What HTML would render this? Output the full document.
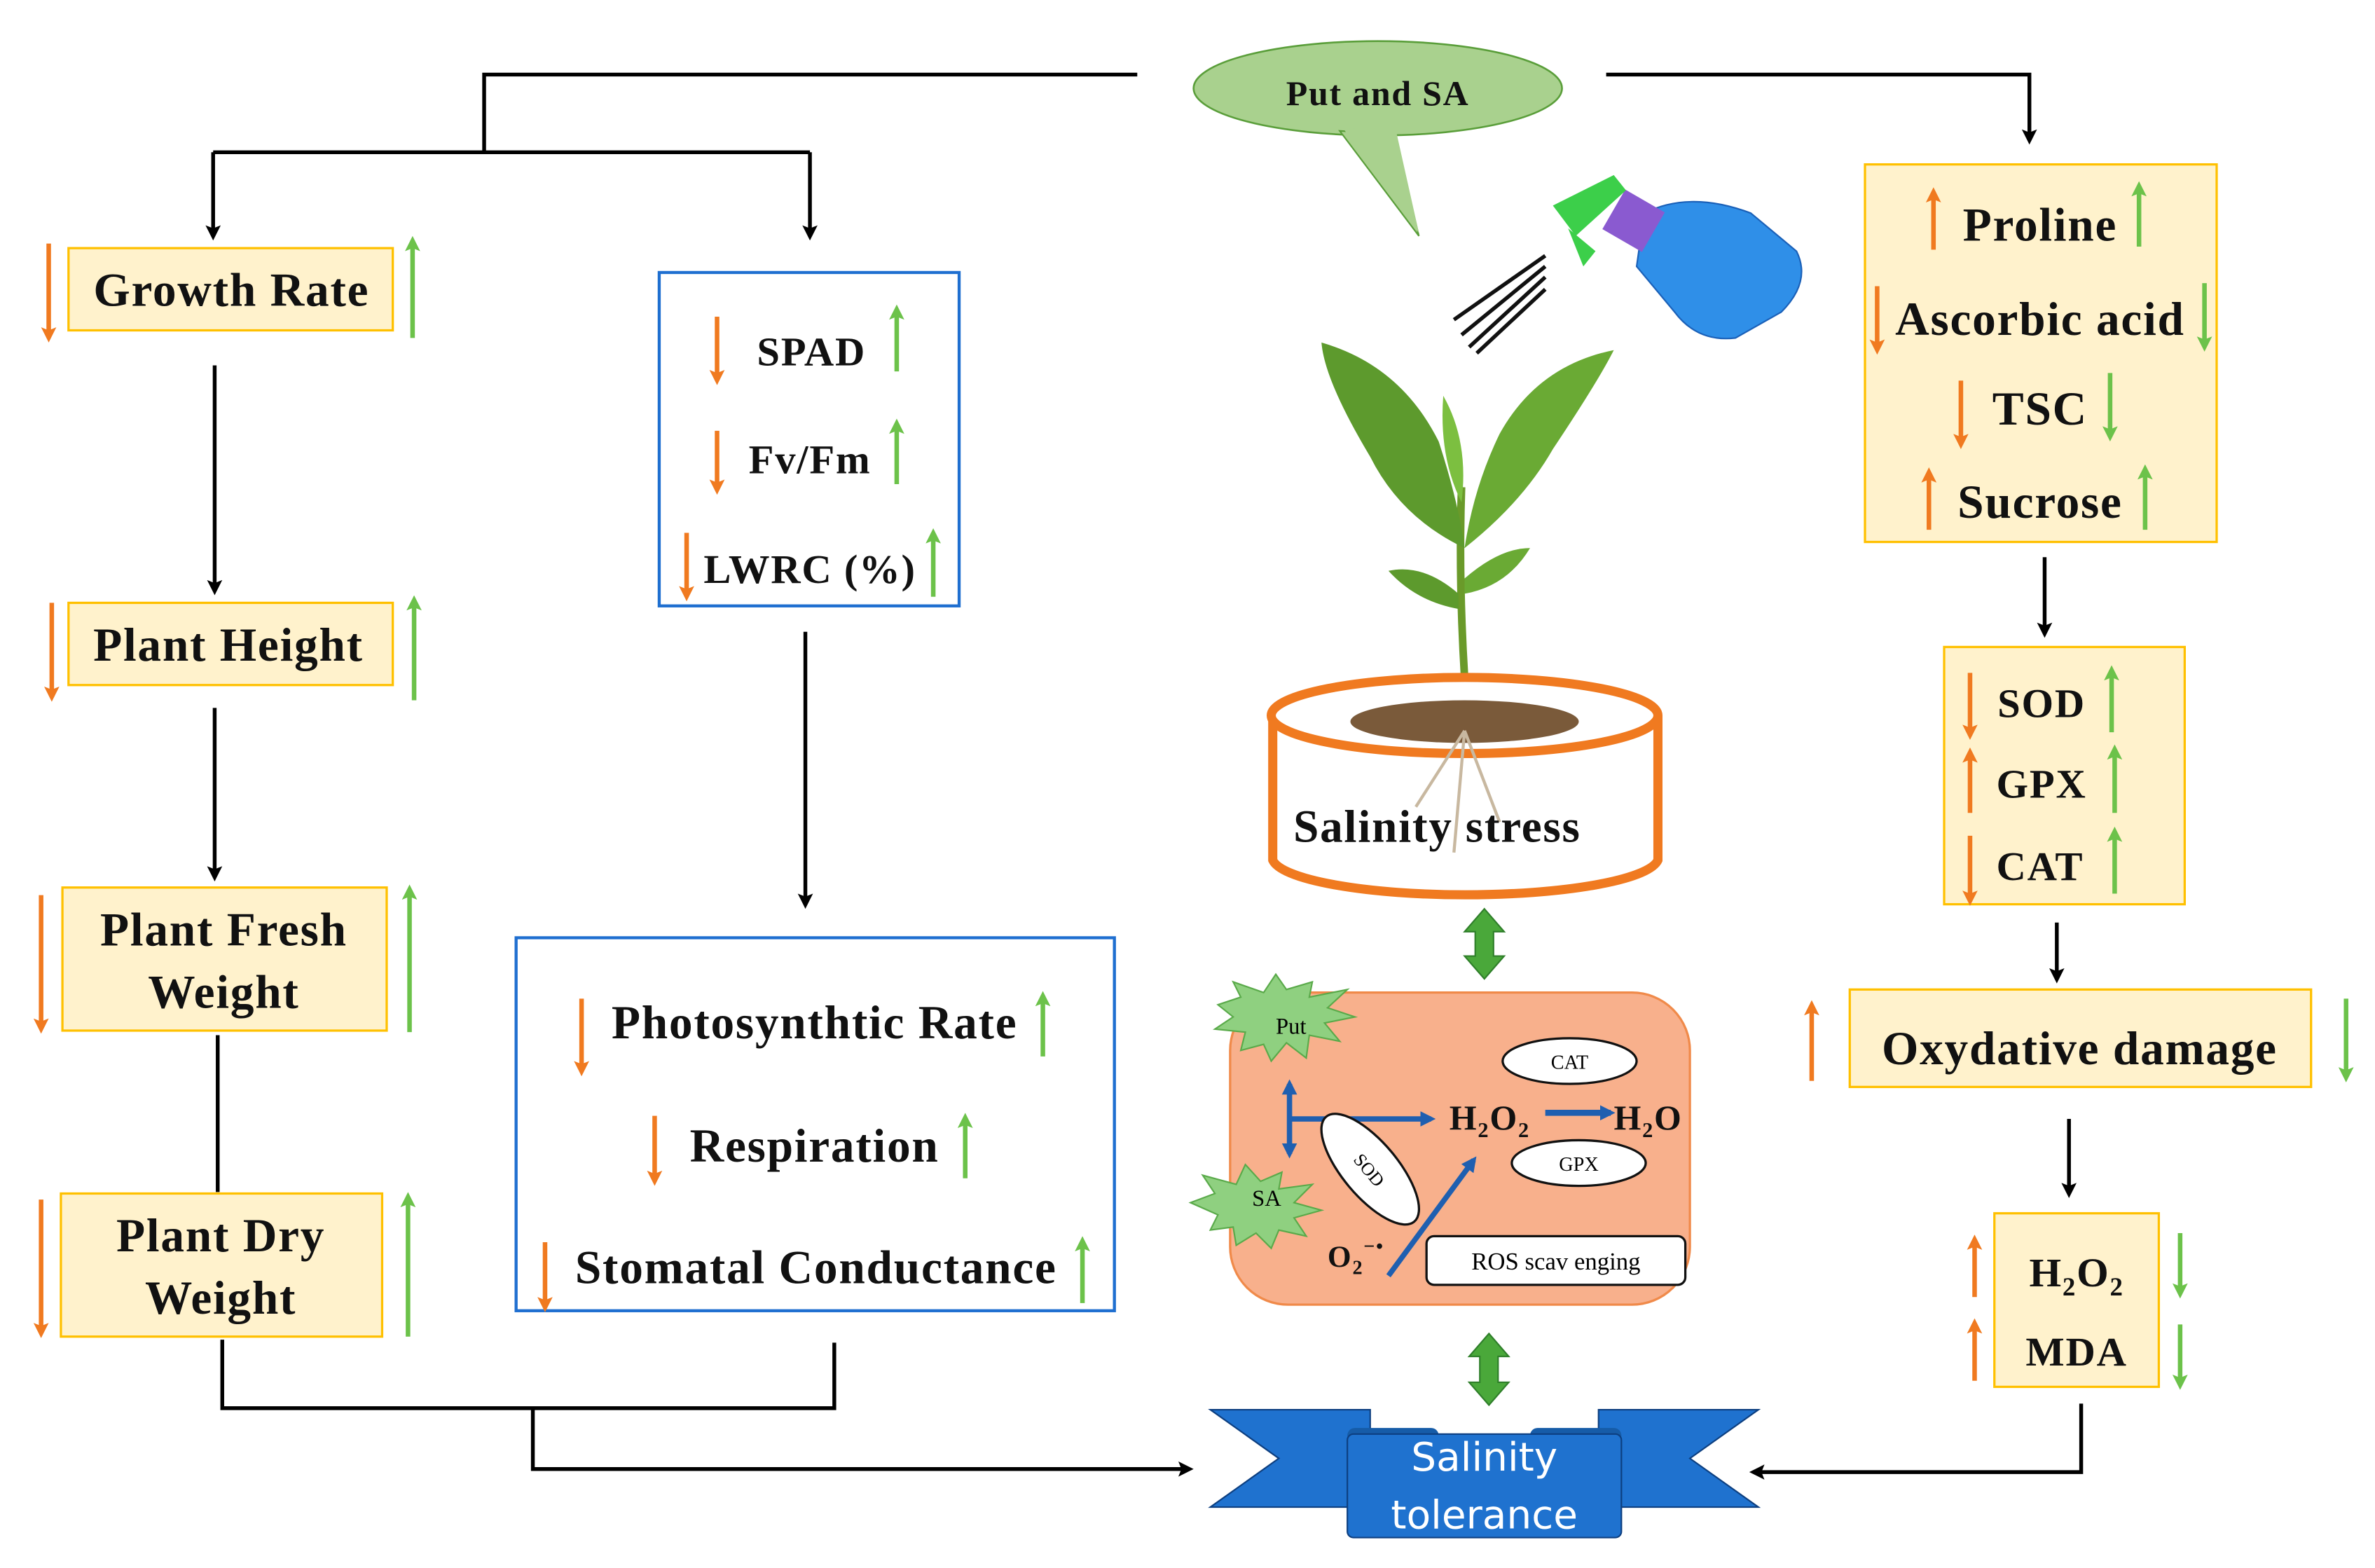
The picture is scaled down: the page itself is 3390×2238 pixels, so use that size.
<!DOCTYPE html>
<html><head><meta charset="utf-8"><style>
html,body{margin:0;padding:0;background:#fff}
svg{display:block}
.t{font-family:"Liberation Serif",serif;font-weight:bold;fill:#111;letter-spacing:0.8px}
</style></head><body>
<svg width="3390" height="2238" viewBox="0 0 1560 1030" preserveAspectRatio="none" xmlns="http://www.w3.org/2000/svg">
<defs>
<marker id="ak" markerWidth="10" markerHeight="10" refX="7" refY="5" orient="auto" markerUnits="userSpaceOnUse"><path d="M0,0 L10,5 L0,10 L2,5z" fill="#000"/></marker>
<marker id="ao" markerWidth="10" markerHeight="10" refX="7" refY="5" orient="auto" markerUnits="userSpaceOnUse"><path d="M0,0 L10,5 L0,10 L2,5z" fill="#f07a20"/></marker>
<marker id="ag" markerWidth="10" markerHeight="10" refX="7" refY="5" orient="auto" markerUnits="userSpaceOnUse"><path d="M0,0 L10,5 L0,10 L2,5z" fill="#6cc24a"/></marker>
<marker id="ab" markerWidth="10" markerHeight="10" refX="7" refY="5" orient="auto" markerUnits="userSpaceOnUse"><path d="M0,0 L10,5 L0,10z" fill="#1f5fb0"/></marker>
</defs>
<g stroke="#000" stroke-width="2.5" fill="none">
<polyline points="747,49 318,49 318,100"/>
<polyline points="140,100 532,100"/>
<line x1="140" y1="100" x2="140" y2="155" marker-end="url(#ak)"/>
<line x1="532" y1="100" x2="532" y2="155" marker-end="url(#ak)"/>
<polyline points="1055,49 1333,49 1333,92" marker-end="url(#ak)"/>
<line x1="141" y1="240" x2="141" y2="388" marker-end="url(#ak)"/>
<line x1="141" y1="465" x2="141" y2="576" marker-end="url(#ak)"/>
<line x1="143" y1="680" x2="143" y2="783"/>
<polyline points="146,880 146,925 548,925 548,882"/>
<polyline points="350,925 350,965 781,965" marker-end="url(#ak)"/>
<line x1="529" y1="415" x2="529" y2="594" marker-end="url(#ak)"/>
<line x1="1343" y1="366" x2="1343" y2="416" marker-end="url(#ak)"/>
<line x1="1351" y1="606" x2="1351" y2="643" marker-end="url(#ak)"/>
<line x1="1359" y1="735" x2="1359" y2="784" marker-end="url(#ak)"/>
<polyline points="1367,922 1367,967 1152,967" marker-end="url(#ak)"/>
</g>
<!-- callout -->
<ellipse cx="905" cy="58" rx="121" ry="31" fill="#a9d18e" stroke="#5a9e3a" stroke-width="1.2"/>
<path d="M880,86 L932,155 L916,88 Z" fill="#a9d18e" stroke="#5a9e3a" stroke-width="1"/>
<path d="M882,84 L932,153 L917,86Z" fill="#a9d18e"/>
<text x="905" y="69" class="t" font-size="23" text-anchor="middle">Put and SA</text>
<!-- boxes -->
<g fill="#fff2cc" stroke="#ffc000" stroke-width="1.5">
<rect x="45" y="163" width="213" height="54"/>
<rect x="45" y="396" width="213" height="54"/>
<rect x="41" y="583" width="213" height="94"/>
<rect x="40" y="784" width="211" height="94"/>
<rect x="1225" y="108" width="231" height="248"/>
<rect x="1277" y="425" width="158" height="169"/>
<rect x="1215" y="650" width="303" height="64"/>
<rect x="1310" y="797" width="108" height="114"/>
</g>
<g fill="none" stroke="#1f6fd0" stroke-width="2">
<rect x="433" y="179" width="197" height="219"/>
<rect x="339" y="616" width="393" height="245"/>
</g>
<g class="t" font-size="31" text-anchor="middle">
<text x="152" y="201">Growth Rate</text>
<text x="150" y="434">Plant Height</text>
<text x="147" y="621">Plant Fresh</text>
<text x="147" y="662">Weight</text>
<text x="145" y="822">Plant Dry</text>
<text x="145" y="863">Weight</text>
<text x="533" y="240" font-size="27">SPAD</text>
<text x="532" y="311" font-size="27">Fv/Fm</text>
<text x="532" y="383" font-size="27">LWRC (%)</text>
<text x="535" y="682">Photosynthtic Rate</text>
<text x="535" y="763">Respiration</text>
<text x="536" y="843">Stomatal Conductance</text>
<text x="1340" y="158">Proline</text>
<text x="1340" y="220">Ascorbic acid</text>
<text x="1340" y="279">TSC</text>
<text x="1340" y="340">Sucrose</text>
<text x="1341" y="471" font-size="27">SOD</text>
<text x="1341" y="524" font-size="27">GPX</text>
<text x="1340" y="578" font-size="27">CAT</text>
<text x="1366" y="699">Oxydative damage</text>
<text x="1364" y="845" font-size="27">H<tspan font-size="17" dy="6">2</tspan><tspan dy="-6">O</tspan><tspan font-size="17" dy="6">2</tspan></text>
<text x="1364" y="897" font-size="27">MDA</text>
</g>
<!-- small arrows -->
<g stroke-width="3">
<g stroke="#f07a20">
<line x1="32" y1="160" x2="32" y2="222" marker-end="url(#ao)"/>
<line x1="34" y1="396" x2="34" y2="458" marker-end="url(#ao)"/>
<line x1="27" y1="588" x2="27" y2="676" marker-end="url(#ao)"/>
<line x1="27" y1="788" x2="27" y2="876" marker-end="url(#ao)"/>
<line x1="471" y1="208" x2="471" y2="250" marker-end="url(#ao)"/>
<line x1="471" y1="283" x2="471" y2="322" marker-end="url(#ao)"/>
<line x1="451" y1="350" x2="451" y2="392" marker-end="url(#ao)"/>
<line x1="382" y1="656" x2="382" y2="704" marker-end="url(#ao)"/>
<line x1="430" y1="733" x2="430" y2="776" marker-end="url(#ao)"/>
<line x1="358" y1="816" x2="358" y2="859" marker-end="url(#ao)"/>
<line x1="1270" y1="164" x2="1270" y2="126" marker-end="url(#ao)"/>
<line x1="1233" y1="188" x2="1233" y2="230" marker-end="url(#ao)"/>
<line x1="1288" y1="250" x2="1288" y2="292" marker-end="url(#ao)"/>
<line x1="1267" y1="348" x2="1267" y2="310" marker-end="url(#ao)"/>
<line x1="1294" y1="442" x2="1294" y2="483" marker-end="url(#ao)"/>
<line x1="1294" y1="534" x2="1294" y2="494" marker-end="url(#ao)"/>
<line x1="1294" y1="549" x2="1294" y2="592" marker-end="url(#ao)"/>
<line x1="1190" y1="710" x2="1190" y2="660" marker-end="url(#ao)"/>
<line x1="1297" y1="852" x2="1297" y2="814" marker-end="url(#ao)"/>
<line x1="1297" y1="907" x2="1297" y2="869" marker-end="url(#ao)"/>
</g>
<g stroke="#6cc24a">
<line x1="271" y1="222" x2="271" y2="158" marker-end="url(#ag)"/>
<line x1="272" y1="460" x2="272" y2="394" marker-end="url(#ag)"/>
<line x1="269" y1="678" x2="269" y2="584" marker-end="url(#ag)"/>
<line x1="268" y1="878" x2="268" y2="786" marker-end="url(#ag)"/>
<line x1="589" y1="244" x2="589" y2="203" marker-end="url(#ag)"/>
<line x1="589" y1="318" x2="589" y2="278" marker-end="url(#ag)"/>
<line x1="613" y1="392" x2="613" y2="350" marker-end="url(#ag)"/>
<line x1="685" y1="694" x2="685" y2="654" marker-end="url(#ag)"/>
<line x1="634" y1="774" x2="634" y2="734" marker-end="url(#ag)"/>
<line x1="711" y1="856" x2="711" y2="815" marker-end="url(#ag)"/>
<line x1="1405" y1="162" x2="1405" y2="122" marker-end="url(#ag)"/>
<line x1="1448" y1="186" x2="1448" y2="228" marker-end="url(#ag)"/>
<line x1="1386" y1="245" x2="1386" y2="287" marker-end="url(#ag)"/>
<line x1="1409" y1="348" x2="1409" y2="308" marker-end="url(#ag)"/>
<line x1="1387" y1="481" x2="1387" y2="440" marker-end="url(#ag)"/>
<line x1="1389" y1="534" x2="1389" y2="492" marker-end="url(#ag)"/>
<line x1="1389" y1="587" x2="1389" y2="546" marker-end="url(#ag)"/>
<line x1="1541" y1="656" x2="1541" y2="708" marker-end="url(#ag)"/>
<line x1="1432" y1="810" x2="1432" y2="850" marker-end="url(#ag)"/>
<line x1="1432" y1="870" x2="1432" y2="910" marker-end="url(#ag)"/>
</g>
</g>
<!-- sprayer -->
<g>
<path d="M1080,140 Q1110,125 1150,140 L1180,165 Q1190,185 1170,205 L1140,222 Q1115,225 1100,205 L1075,175 Z" fill="#2f8fe8" stroke="#1a60b8"/>
<rect x="1058" y="130" width="30" height="30" fill="#8a5ad0" transform="rotate(30 1073 145)"/>
<path d="M1020,135 L1060,115 L1068,125 L1035,155 Z" fill="#3ccf4a"/>
<path d="M1030,150 L1040,175 L1048,165 Z" fill="#3ccf4a"/>
<g stroke="#111" stroke-width="2.5"><line x1="1015" y1="168" x2="955" y2="210"/><line x1="1015" y1="175" x2="960" y2="220"/><line x1="1015" y1="182" x2="965" y2="228"/><line x1="1015" y1="190" x2="970" y2="232"/></g>
</g>
<!-- plant -->
<g>
<path d="M962,445 Q958,380 960,320" stroke="#6a9a2a" stroke-width="5" fill="none"/>
<path d="M962,360 Q920,340 900,300 Q870,250 868,225 Q920,240 945,290 Q958,330 962,360Z" fill="#5d9a2d"/>
<path d="M962,360 Q1000,330 1020,295 Q1050,250 1060,230 Q1010,240 985,285 Q968,320 962,360Z" fill="#6aaa34"/>
<path d="M958,400 Q930,395 912,375 Q935,370 958,390Z" fill="#5d9a2d"/>
<path d="M962,390 Q990,385 1005,360 Q985,360 962,380Z" fill="#6aaa34"/>
<path d="M960,330 Q945,300 948,260 Q965,290 960,330Z" fill="#7cbf40"/>
</g>
<!-- pot -->
<path d="M836,470 L836,565 A127,25 0 0 0 1089,565 L1089,470" fill="#fff" stroke="#f07a20" stroke-width="6"/>
<ellipse cx="962" cy="470" rx="127" ry="25" fill="#fff" stroke="#f07a20" stroke-width="6"/>
<ellipse cx="962" cy="474" rx="75" ry="14" fill="#7a5a3a"/>
<path d="M962,480 L955,560 M962,480 L985,540 M962,480 L930,530" stroke="#c8b8a0" stroke-width="2"/>
<text x="944" y="553" class="t" font-size="30" text-anchor="middle">Salinity stress</text>
<!-- green double arrows -->
<path d="M975,597 L988,612 L981,612 L981,628 L988,628 L975,643 L962,628 L969,628 L969,612 L962,612Z" fill="#4aa83a" stroke="#2f7f2a"/>
<path d="M978,876 L991,891 L984,891 L984,908 L991,908 L978,923 L965,908 L972,908 L972,891 L965,891Z" fill="#4aa83a" stroke="#2f7f2a"/>
<!-- ROS box -->
<rect x="808" y="652" width="302" height="205" rx="38" fill="#f8b08c" stroke="#f08a4a" stroke-width="1.5"/>
<polygon points="800,660 815,655 810,645 830,652 838,640 845,650 862,645 860,655 885,650 872,662 890,668 870,672 880,684 860,680 858,695 845,685 835,697 830,686 815,690 818,678 798,676 810,668" fill="#8fd080" stroke="#5aaa4a"/>
<polygon points="782,790 798,784 790,772 812,778 818,765 828,776 842,770 840,781 862,778 850,790 868,795 850,800 858,812 840,808 835,820 825,810 812,818 810,806 795,808 800,798" fill="#8fd080" stroke="#5aaa4a"/>
<text x="848" y="679" font-family="Liberation Serif,serif" font-size="15" text-anchor="middle">Put</text>
<text x="832" y="792" font-family="Liberation Serif,serif" font-size="15" text-anchor="middle">SA</text>
<g stroke="#1f5fb0" stroke-width="3.5" fill="none">
<line x1="847" y1="735" x2="940" y2="735" marker-end="url(#ab)"/>
<line x1="847" y1="735" x2="847" y2="712" marker-end="url(#ab)"/>
<line x1="847" y1="735" x2="847" y2="758" marker-end="url(#ab)"/>
<line x1="1015" y1="731" x2="1058" y2="731" marker-end="url(#ab)" stroke-width="4"/>
</g>
<ellipse cx="900" cy="768" rx="45" ry="18" transform="rotate(50 900 768)" fill="#fff" stroke="#111" stroke-width="1.5"/>
<text x="900" y="773" font-family="Liberation Serif,serif" font-size="12" text-anchor="middle" transform="rotate(50 900 768)">SOD</text>
<line x1="912" y1="838" x2="968" y2="762" stroke="#1f5fb0" stroke-width="3.5" marker-end="url(#ab)"/>
<ellipse cx="1031" cy="697" rx="44" ry="15" fill="#fff" stroke="#111" stroke-width="1.5"/>
<text x="1031" y="702" font-family="Liberation Serif,serif" font-size="13" text-anchor="middle">CAT</text>
<ellipse cx="1037" cy="764" rx="44" ry="15" fill="#fff" stroke="#111" stroke-width="1.5"/>
<text x="1037" y="769" font-family="Liberation Serif,serif" font-size="13" text-anchor="middle">GPX</text>
<text x="952" y="742" class="t" font-size="23">H<tspan font-size="14" dy="5">2</tspan><tspan dy="-5">O</tspan><tspan font-size="14" dy="5">2</tspan></text>
<text x="1060" y="742" class="t" font-size="23">H<tspan font-size="14" dy="5">2</tspan><tspan dy="-5">O</tspan></text>
<text x="872" y="832" class="t" font-size="20">O<tspan font-size="13" dy="5">2</tspan><tspan font-size="13" dy="-14">−•</tspan></text>
<rect x="937" y="812" width="170" height="32" rx="5" fill="#fff" stroke="#111" stroke-width="1.5"/>
<text x="1022" y="834" font-family="Liberation Serif,serif" font-size="16" text-anchor="middle">ROS scav enging</text>
<!-- ribbon -->
<polygon points="795,926 900,926 900,990 795,990 840,958" fill="#1f72cf" stroke="#0d3f80" stroke-width="1"/>
<polygon points="1155,926 1050,926 1050,990 1155,990 1110,958" fill="#1f72cf" stroke="#0d3f80" stroke-width="1"/>
<rect x="885" y="938" width="60" height="10" rx="5" fill="#165ca8"/>
<rect x="1005" y="938" width="60" height="10" rx="5" fill="#165ca8"/>
<rect x="885" y="942" width="180" height="68" rx="4" fill="#1f72cf" stroke="#0d3f80" stroke-width="1"/>
<text x="975" y="966" font-family="DejaVu Sans,sans-serif" font-size="26" fill="#fff" text-anchor="middle">Salinity</text>
<text x="975" y="1004" font-family="DejaVu Sans,sans-serif" font-size="26" fill="#fff" text-anchor="middle">tolerance</text>
</svg>
</body></html>
